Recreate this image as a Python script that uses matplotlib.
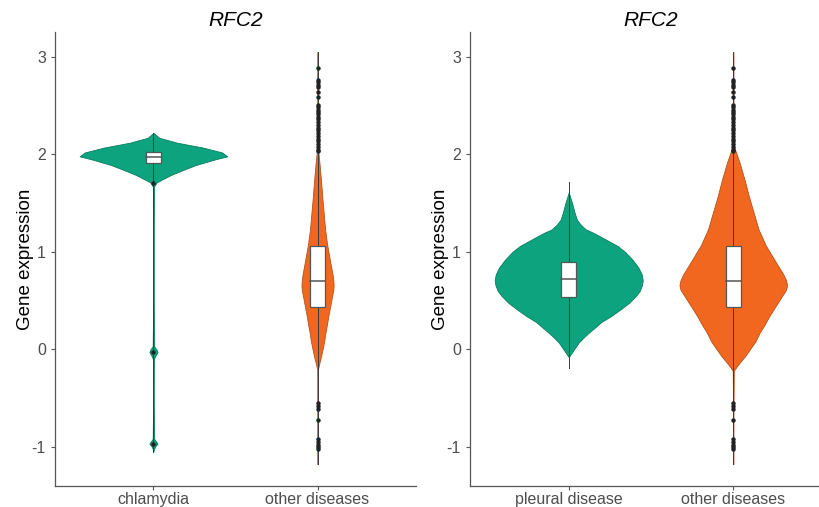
import matplotlib
matplotlib.use('Agg')
import matplotlib.pyplot as plt

plt.rcParams['font.family'] = ['Liberation Sans', 'DejaVu Sans']

# ---------------- data ----------------
title_text = "RFC2"
ylabel_text = "Gene expression"
left_categories = ["chlamydia", "other diseases"]
right_categories = ["pleural disease", "other diseases"]
yticks = [-1, 0, 1, 2, 3]

# violin density profiles (y value, relative half-width, 1 = widest point)
chl_y = [2.22, 2.17, 2.12, 2.07, 2.02, 1.98, 1.95, 1.89, 1.84, 1.79, 1.74, 1.71, 1.67,
         1.2, 0.5, 0.03, 0.0, -0.03, -0.06, -0.1, -0.5, -0.92, -0.95, -0.97, -0.99, -1.02, -1.05]
chl_w = [0.0, 0.08, 0.32, 0.67, 0.93, 1.0, 0.84, 0.57, 0.40, 0.24, 0.11, 0.04, 0.008,
         0.004, 0.004, 0.01, 0.04, 0.055, 0.03, 0.006, 0.004, 0.01, 0.04, 0.055, 0.03, 0.01, 0.0]

oth_y = [3.05, 2.5, 2.07, 1.91, 1.74, 1.57, 1.40, 1.23, 1.07, 0.95, 0.85, 0.77, 0.71, 0.66,
         0.61, 0.55, 0.48, 0.42, 0.34, 0.25, 0.17, 0.08, 0.0, -0.07, -0.13, -0.18, -0.22,
         -0.6, -1.18]
oth_w = [0.0, 0.004, 0.02, 0.12, 0.21, 0.29, 0.38, 0.47, 0.60, 0.73, 0.84, 0.93, 0.98, 1.0,
         0.98, 0.91, 0.83, 0.76, 0.67, 0.58, 0.49, 0.41, 0.31, 0.22, 0.13, 0.06, 0.01,
         0.004, 0.0]

pl_y = [1.61, 1.50, 1.40, 1.33, 1.28, 1.23, 1.20, 1.16, 1.11, 1.06, 1.00, 0.92, 0.84, 0.77,
        0.71, 0.66, 0.60, 0.55, 0.48, 0.41, 0.34, 0.28, 0.22, 0.17, 0.12, 0.07, 0.02, -0.02, -0.08]
pl_w = [0.0, 0.045, 0.08, 0.11, 0.16, 0.23, 0.32, 0.42, 0.54, 0.66, 0.76, 0.86, 0.94, 0.985,
        1.0, 0.99, 0.96, 0.91, 0.82, 0.70, 0.57, 0.44, 0.35, 0.27, 0.20, 0.135, 0.09, 0.054, 0.0]

# box statistics (q1, median, q3) and data range (min, max)
chl_box = [1.91, 1.97, 2.02]
oth_box = [0.43, 0.70, 1.06]
pl_box = [0.54, 0.72, 0.90]
chl_range = [-1.05, 2.22]
oth_range = [-1.18, 3.05]
pl_range = [-0.19, 1.72]

# outliers
chl_out = [1.71, -0.03, -0.97]
oth_out = [2.89, 2.76, 2.74, 2.71, 2.69, 2.64, 2.59, 2.51, 2.49, 2.46, 2.44, 2.41, 2.38,
           2.36, 2.33, 2.30, 2.27, 2.25, 2.22, 2.19, 2.16, 2.14, 2.11, 2.08, 2.05, 2.03,
           -0.55, -0.58, -0.61, -0.73, -0.92, -0.95, -0.98, -1.00, -1.02]
pl_out = []

# widest half-width of each violin in the panel (category units)
left_maxw = [0.45, 0.098]
right_maxw = [0.45, 0.327]

# ---------------- styling ----------------
teal = "#0ca37e"
teal_edge = "#087d60"
orange = "#f2671f"
orange_edge = "#b9501a"
grey_axis = "#555555"
grey_text = "#4d4d4d"

fig = plt.figure(figsize=(8.2, 5.07), dpi=100)
ax_l = fig.add_axes([55 / 820, 1 - 486 / 507, 361 / 820, 454 / 507])
ax_r = fig.add_axes([470 / 820, 1 - 486 / 507, 362 / 820, 454 / 507])


def draw_group(ax, pos, ys, ws, maxw, box, rng, outs, face, edge):
    left = [pos - w * maxw for w in ws]
    right = [pos + w * maxw for w in ws]
    ax.fill_betweenx(ys, left, right, facecolor=face, edgecolor=edge, lw=0.6, zorder=2)
    ax.plot([pos, pos], rng, color="#3a3a3a", lw=0.7, zorder=3)
    bw = 0.045
    q1, med, q3 = box
    ax.add_patch(plt.Rectangle((pos - bw, q1), 2 * bw, q3 - q1, facecolor="white",
                               edgecolor=grey_axis, lw=0.9, zorder=4))
    ax.plot([pos - bw, pos + bw], [med, med], color=grey_axis, lw=1.1, zorder=5)
    if outs:
        ax.plot([pos] * len(outs), outs, 'o', color="#222222", ms=3.2, mew=0, zorder=6)


def style(ax, cats):
    ax.set_xlim(0.4, 2.6)
    ax.set_ylim(-1.403, 3.256)
    ax.set_xticks([1, 2])
    ax.set_xticklabels(cats)
    ax.set_yticks(yticks)
    ax.set_yticklabels([str(t) for t in yticks])
    for s in ["top", "right"]:
        ax.spines[s].set_visible(False)
    for s in ["left", "bottom"]:
        ax.spines[s].set_color(grey_axis)
        ax.spines[s].set_linewidth(0.9)
    ax.tick_params(axis="both", colors=grey_axis, labelcolor=grey_text, labelsize=11.5,
                   length=3, width=0.8)
    ax.tick_params(axis="x", pad=1)
    ax.set_ylabel(ylabel_text, fontsize=13.5, color="black")
    ax.yaxis.set_label_coords(-0.058, 0.5)
    ax.set_title(title_text, fontsize=15, style="italic", pad=4)


draw_group(ax_l, 1, chl_y, chl_w, left_maxw[0], chl_box, chl_range, chl_out, teal, teal_edge)
draw_group(ax_l, 2, oth_y, oth_w, left_maxw[1], oth_box, oth_range, oth_out, orange, orange_edge)
draw_group(ax_r, 1, pl_y, pl_w, right_maxw[0], pl_box, pl_range, pl_out, teal, teal_edge)
draw_group(ax_r, 2, oth_y, oth_w, right_maxw[1], oth_box, oth_range, oth_out, orange, orange_edge)

style(ax_l, left_categories)
style(ax_r, right_categories)

fig.savefig("out.png", dpi=100)
